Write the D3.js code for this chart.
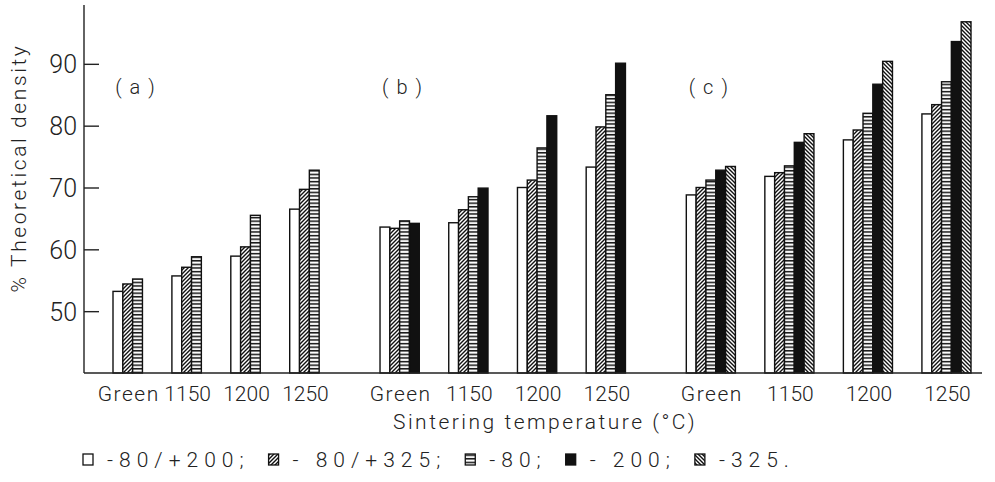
<!DOCTYPE html>
<html>
<head>
<meta charset="utf-8">
<script src="https://cdn.jsdelivr.net/npm/d3@7"></script>
<style>
  html, body { margin: 0; padding: 0; background: #fff; }
  svg { display: block; }
  text { font-family: Roboto, "DejaVu Sans", sans-serif; font-weight: 300; fill: #222; }
</style>
</head>
<body>
<svg id="chart" width="995" height="482"></svg>
<script>
// Powder size fractions (legend order) and sintering conditions
const fractions = ["-80/+200;", "- 80/+325;", "-80;", "- 200;", "-325."];
const conditions = ["Green", "1150", "1200", "1250"];
const panels = ["(a)", "(b)", "(c)"];

// Which fractions appear in each panel (indices into `fractions`)
const panelFractionsA = [0, 1, 2];
const panelFractionsB = [0, 1, 2, 3];
const panelFractionsC = [0, 1, 2, 3, 4];

// % theoretical density, one row per condition (Green, 1150, 1200, 1250)
const densityA = [
  [53.2, 54.4, 55.2],
  [55.7, 57.1, 58.8],
  [58.9, 60.4, 65.5],
  [66.5, 69.7, 72.8]
];
const densityB = [
  [63.6, 63.4, 64.6, 64.2],
  [64.3, 66.4, 68.5, 69.9],
  [70.0, 71.2, 76.4, 81.6],
  [73.3, 79.8, 85.0, 90.1]
];
const densityC = [
  [68.8, 70.0, 71.2, 72.8, 73.4],
  [71.8, 72.4, 73.5, 77.3, 78.7],
  [77.7, 79.3, 82.0, 86.7, 90.4],
  [81.9, 83.4, 87.1, 93.6, 96.8]
];

const yTicks = [50, 60, 70, 80, 90];

const panelData = [
  { label: panels[0], series: panelFractionsA, values: densityA },
  { label: panels[1], series: panelFractionsB, values: densityB },
  { label: panels[2], series: panelFractionsC, values: densityC }
];

const svg = d3.select("#chart");
const defs = svg.append("defs");

// Fill patterns for the five fractions
function hatch(id, d, sw, size) {
  const p = defs.append("pattern").attr("id", id)
    .attr("patternUnits", "userSpaceOnUse").attr("width", size).attr("height", size);
  p.append("rect").attr("width", size).attr("height", size).attr("fill", "#fff");
  p.append("path").attr("d", d).attr("stroke", "#111").attr("stroke-width", sw).attr("fill", "none");
}
hatch("p-fwd", "M-1,1 L1,-1 M0,4 L4,0 M3,5 L5,3", 1.4, 4);
hatch("p-horiz", "M0,1.6 L4,1.6", 1.5, 3.6);
hatch("p-back", "M-1,3 L1,5 M0,0 L4,4 M3,-1 L5,1", 1.4, 4);
const fills = ["#fff", "url(#p-fwd)", "url(#p-horiz)", "#111", "url(#p-back)"];

// Layout in bar-width units: bars touch, gaps between groups and panels
const groupGap = 3, panelGap = 6.2;
const layout = [];
let u = 0;
panelData.forEach((p, pi) => {
  if (pi > 0) u += panelGap;
  const groups = [];
  p.values.forEach((row, gi) => {
    if (gi > 0) u += groupGap;
    groups.push({ start: u, n: row.length, row, condition: conditions[gi] });
    u += row.length;
  });
  layout.push({ panel: p, groups, start: groups[0].start });
});
const totalUnits = u;

const x = d3.scaleLinear().domain([0, totalUnits]).range([113, 971]);
const y = d3.scaleLinear().domain([40, 100]).range([373, 2]);
const axisLeftX = 84;

// Bars
layout.forEach(L => {
  L.groups.forEach(g => {
    svg.append("g").selectAll("rect")
      .data(g.row.map((v, i) => ({ v, s: L.panel.series[i], i })))
      .join("rect")
      .attr("x", d => x(g.start + d.i))
      .attr("width", x(1) - x(0))
      .attr("y", d => y(d.v))
      .attr("height", d => y(40) - y(d.v))
      .attr("fill", d => fills[d.s])
      .attr("stroke", "#111")
      .attr("stroke-width", 1.4);

    svg.append("text")
      .attr("x", x(g.start + g.n / 2) + 1)
      .attr("y", 401)
      .attr("text-anchor", "middle")
      .style("font-size", "21px")
      .style("letter-spacing", g.condition === "Green" ? "1.5px" : "0px")
      .text(g.condition);
  });
  svg.append("text")
    .attr("x", x(L.start) + 26)
    .attr("y", 94)
    .attr("text-anchor", "middle")
    .style("font-size", "20px")
    .style("letter-spacing", "8px")
    .text(L.panel.label);
});

// Y axis with inward ticks
const yAxis = d3.axisLeft(y).tickValues(yTicks).tickSize(-15).tickSizeOuter(0).tickPadding(7);
const ya = svg.append("g").attr("transform", `translate(${axisLeftX},0)`).call(yAxis);
ya.select(".domain").attr("stroke", "#222").attr("stroke-width", 1.4).attr("d", `M0,${y(99.5)}V${y(40)}`);
ya.selectAll(".tick line").attr("stroke", "#222").attr("stroke-width", 1.4);
ya.selectAll(".tick text").style("font-family", "Roboto, sans-serif").style("font-weight", 300)
  .style("font-size", "25px").attr("fill", "#222").attr("dy", "0.36em");

// X baseline
svg.append("line")
  .attr("x1", axisLeftX).attr("x2", 982)
  .attr("y1", y(40)).attr("y2", y(40))
  .attr("stroke", "#222").attr("stroke-width", 1.6);

// Axis titles
svg.append("text")
  .attr("x", 545).attr("y", 429)
  .attr("text-anchor", "middle")
  .style("font-size", "21px")
  .style("letter-spacing", "2.5px")
  .text("Sintering temperature  (°C)");

svg.append("text")
  .attr("transform", "translate(26,168) rotate(-90)")
  .attr("text-anchor", "middle")
  .style("font-size", "21px")
  .style("letter-spacing", "2.6px")
  .text("% Theoretical density");

// Legend: swatch followed by label, laid out left to right
let lx = 83;
const ly = 460;
fractions.forEach((f, i) => {
  svg.append("rect")
    .attr("x", lx).attr("y", ly - 6).attr("width", 10).attr("height", 11)
    .attr("fill", fills[i]).attr("stroke", "#111").attr("stroke-width", 1.3);
  const t = svg.append("text")
    .attr("x", lx + 24).attr("y", ly + 7)
    .style("font-size", "21px")
    .style("letter-spacing", "6px")
    .text(f);
  lx += 24 + t.node().getComputedTextLength() + 19;
});
</script>
</body>
</html>
